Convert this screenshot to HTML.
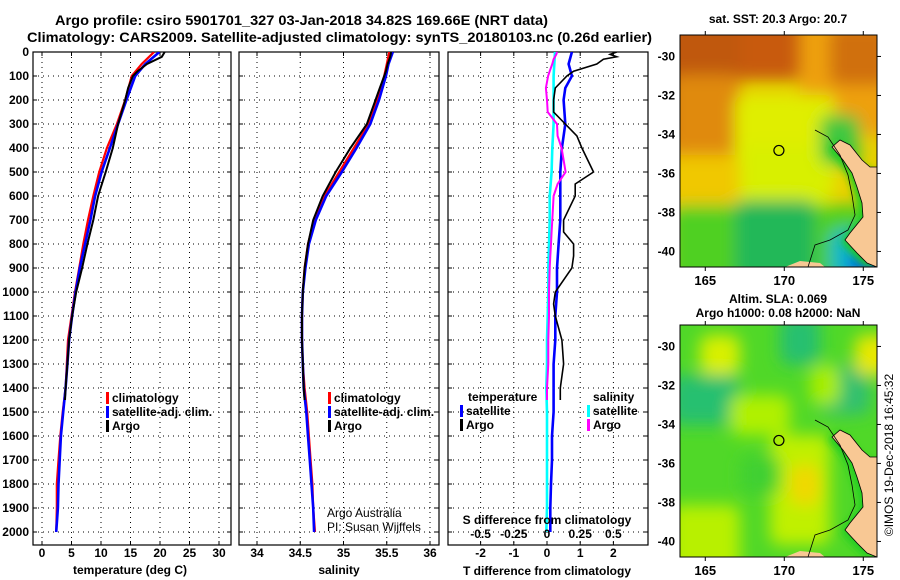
<!DOCTYPE html>
<html><head><meta charset="utf-8">
<style>
html,body{margin:0;padding:0;background:#fff;}
svg{display:block;font-family:"Liberation Sans",sans-serif;}
.b{font-weight:bold;}
</style></head>
<body>
<svg id="fig" width="900" height="580" viewBox="0 0 900 580" xmlns="http://www.w3.org/2000/svg">
<defs>
 <clipPath id="c1"><rect x="33" y="52" width="198" height="493"/></clipPath>
 <clipPath id="c2"><rect x="239" y="52" width="200" height="493"/></clipPath>
 <clipPath id="c3"><rect x="448" y="52" width="200" height="493"/></clipPath>
 <clipPath id="m1"><rect x="680" y="35" width="197" height="232"/></clipPath>
 <clipPath id="m2"><rect x="680" y="325" width="197" height="232"/></clipPath>
 <filter id="bl" filterUnits="userSpaceOnUse" x="600" y="0" width="320" height="580"><feGaussianBlur stdDeviation="8"/></filter>
 <filter id="bl2" filterUnits="userSpaceOnUse" x="600" y="0" width="320" height="580"><feGaussianBlur stdDeviation="4"/></filter>
</defs>
<text class="b" x="55" y="25" font-size="14" textLength="493" lengthAdjust="spacingAndGlyphs">Argo profile: csiro 5901701_327 03-Jan-2018 34.82S 169.66E (NRT data)</text>
<text class="b" x="27" y="42" font-size="14" textLength="625" lengthAdjust="spacingAndGlyphs">Climatology: CARS2009. Satellite-adjusted climatology: synTS_20180103.nc (0.26d earlier)</text>
<g id="plots"></g>
<g id="maps"></g>
<text transform="translate(893,455) rotate(-90)" text-anchor="middle" font-size="12">©IMOS 19-Dec-2018 16:45:32</text>
</svg>
<script>
// ---- data (depth in dbar) ----
const depthClim = [0,50,100,200,300,400,500,600,700,800,900,1000,1100,1200,1300,1400,1500,1600,1700,1800,1900,2000];
const tempClim  = [19.0,16.9,15.2,14.1,12.7,11.0,9.7,8.7,7.8,7.0,6.3,5.6,5.0,4.4,4.2,4.0,3.5,3.1,2.8,2.5,2.5,2.4];
const tempSat   = [19.9,17.5,15.8,14.3,12.9,11.5,10.1,9.0,8.2,7.3,6.4,5.7,5.1,4.6,4.3,4.0,3.6,3.2,3.0,2.8,2.7,2.4];
const salClim   = [35.53,35.5,35.47,35.39,35.29,35.12,34.95,34.78,34.66,34.59,34.55,34.53,34.52,34.52,34.53,34.55,34.58,34.60,34.62,34.64,34.65,34.67];
const salSat    = [35.57,35.52,35.49,35.41,35.31,35.15,34.98,34.80,34.68,34.60,34.56,34.53,34.52,34.52,34.53,34.54,34.57,34.59,34.61,34.63,34.65,34.66];
const depthArgo = [0,20,50,80,100,150,200,300,400,500,600,700,800,900,1000,1100,1200,1300,1400,1450];
const tempArgo  = [20.8,20.3,17.8,16.2,15.4,14.6,14.1,12.9,12.0,10.8,9.5,8.7,7.7,6.8,5.8,5.1,4.6,4.3,4.0,3.9];
const salArgo   = [35.55,35.54,35.51,35.49,35.47,35.42,35.37,35.27,35.08,34.91,34.76,34.65,34.59,34.55,34.53,34.52,34.52,34.53,34.54,34.55];
const depthDiff = [0,10,20,30,50,80,100,150,200,250,300,350,400,500,550,600,700,750,800,850,900,1000,1050,1100,1200,1300,1400,1450];
const tDiffArgo = [2.1,1.9,2.1,1.7,1.5,0.8,0.6,0.25,0.2,0.2,0.55,0.9,1.05,1.4,0.85,0.85,0.5,0.5,0.8,0.8,0.75,0.25,0.2,0.25,0.45,0.5,0.4,0.4];
const sDiffArgo = [0.075,0.07,0.06,0.05,0.04,0.02,0.008,-0.008,0.0,0.005,0.075,0.08,0.11,0.14,0.08,0.05,0.04,0.035,0.03,0.025,0.02,0.015,0.015,0.015,0.01,0.01,0.0,0.0];
const depthDiffSat = [0,50,100,150,200,300,400,500,600,700,800,900,1000,1100,1200,1300,1400,1500,1600,1700,1800,1900,2000];
const tDiffSat  = [0.75,0.65,0.75,0.55,0.5,0.55,0.45,0.4,0.4,0.4,0.35,0.3,0.3,0.25,0.25,0.2,0.2,0.2,0.15,0.15,0.12,0.1,0.1];
const sDiffSat  = [0.06,0.055,0.05,0.05,0.05,0.05,0.04,0.035,0.02,0.02,0.015,0.01,0.01,0.005,0.0,0.0,-0.005,0.0,0.0,0.0,0.0,0.0,-0.005];
const depthTicks = [0,100,200,300,400,500,600,700,800,900,1000,1100,1200,1300,1400,1500,1600,1700,1800,1900,2000];
const tempTicks = [0,5,10,15,20,25,30];
const salTicks  = ["34","34.5","35","35.5","36"];
const tdTicks   = [-2,-1,0,1,2];
const sdTickLabels = ["-0.5","-0.25","0","0.25","0.5"];
const lonTicks = [165,170,175];
const latTicks = [-30,-32,-34,-36,-38,-40];
const argoLon = [169.66];
const argoLat = [-34.82];

const NS="http://www.w3.org/2000/svg";
const P=document.getElementById('plots');
function el(tag,attrs,parent){const e=document.createElementNS(NS,tag);for(const k in attrs)e.setAttribute(k,attrs[k]);(parent||P).appendChild(e);return e;}
const yD = d => 52 + d*0.24;
const xT = t => 42 + t*5.9;
const xS = s => 257 + (s-34)*86.5;
const xTD = t => 547 + t*33.2;
const xSD = s => 547 + s*132.8;

function frame(x0,x1,name,gx){
  const g=el('g',{});
  
  
  gx.forEach(x=>el('line',{x1:x,x2:x,y1:52,y2:545,stroke:'#000','stroke-dasharray':'1,4','stroke-width':1},g));
  depthTicks.slice(1).forEach(d=>el('line',{x1:x0,x2:x1,y1:yD(d),y2:yD(d),stroke:'#000','stroke-dasharray':'1,4','stroke-width':1},g));
  depthTicks.forEach(d=>{el('line',{x1:x0,x2:x0+4,y1:yD(d),y2:yD(d),stroke:'#000'},g);el('line',{x1:x1-4,x2:x1,y1:yD(d),y2:yD(d),stroke:'#000'},g);});
  gx.forEach(x=>{el('line',{x1:x,x2:x,y1:52,y2:56,stroke:'#000'},g);el('line',{x1:x,x2:x,y1:541,y2:545,stroke:'#000'},g);});
  el('rect',{x:x0,y:52,width:x1-x0,height:493,fill:'none',stroke:'#000','stroke-width':1.2},g);
  return g;
}
function line(xs,ds,fx,color,w,clip,name){
  const pts=xs.map((v,i)=>fx(v).toFixed(1)+','+yD(ds[i]).toFixed(1)).join(' ');
  const p=el('polyline',{points:pts,fill:'none',stroke:color,'stroke-width':w,'clip-path':'url(#'+clip+')'});
  
  
}
function txt(x,y,s,opts,name){
  const t=el('text',Object.assign({x:x,y:y,'font-size':12,'font-weight':'bold'},opts||{}));
  t.textContent=s;
  
  
  return t;
}
function legend(x,y,items,prefix){
  items.forEach((it,i)=>{
    const r=el('rect',{x:x,y:y+i*14-10,width:3,height:12,fill:it[0]});
    
    
    txt(x+6,y+i*14,it[1],{},prefix+'-entry-'+i);
  });
}

// Panel 1 temperature
frame(33,231,'temperature-panel',tempTicks.map(xT));
depthTicks.forEach(d=>txt(29,yD(d)+4,String(d),{'text-anchor':'end'},'depth-tick-label'));
tempTicks.forEach(t=>txt(xT(t),557,String(t),{'text-anchor':'middle'},'temp-tick-label'));
txt(130,574,'temperature (deg C)',{'text-anchor':'middle'},'x-axis-title-temperature');
line(tempClim,depthClim,xT,'#f00',2.2,'c1','temp-climatology-line');
line(tempSat,depthClim,xT,'#00f',2.6,'c1','temp-satellite-line');
line(tempArgo,depthArgo,xT,'#000',2,'c1','temp-argo-line');
legend(106,402,[['#f00','climatology'],['#00f','satellite-adj. clim.'],['#000','Argo']],'temp-legend');

// Panel 2 salinity
frame(239,439,'salinity-panel',salTicks.map(s=>xS(+s)));
salTicks.forEach(s=>txt(xS(+s),557,s,{'text-anchor':'middle'},'sal-tick-label'));
txt(339,574,'salinity',{'text-anchor':'middle'},'x-axis-title-salinity');
line(salClim,depthClim,xS,'#f00',2.2,'c2','sal-climatology-line');
line(salSat,depthClim,xS,'#00f',2.6,'c2','sal-satellite-line');
line(salArgo,depthArgo,xS,'#000',2,'c2','sal-argo-line');
legend(328,402,[['#f00','climatology'],['#00f','satellite-adj. clim.'],['#000','Argo']],'sal-legend');
txt(327,517,'Argo Australia',{'font-weight':'normal'},'credit-argo-australia');
txt(327,531,'PI: Susan Wijffels',{'font-weight':'normal'},'credit-pi');

// Panel 3 differences
frame(448,648,'difference-panel',tdTicks.map(xTD));
tdTicks.forEach(t=>txt(xTD(t),557,String(t),{'text-anchor':'middle'},'tdiff-tick-label'));
txt(547,575,'T difference from climatology',{'text-anchor':'middle'},'x-axis-title-tdiff');
line(sDiffSat,depthDiffSat,xSD,'#0ff',2.6,'c3','sdiff-satellite-line');
line(tDiffSat,depthDiffSat,xTD,'#00f',2.6,'c3','tdiff-satellite-line');
line(sDiffArgo,depthDiff,xSD,'#f0f',2,'c3','sdiff-argo-line');
line(tDiffArgo,depthDiff,xTD,'#000',1.6,'c3','tdiff-argo-line');
txt(468,401,'temperature',{},'tdiff-legend-title');
legend(460,415,[['#00f','satellite'],['#000','Argo']],'tdiff-legend');
txt(593,401,'salinity',{},'sdiff-legend-title');
legend(587,415,[['#0ff','satellite'],['#f0f','Argo']],'sdiff-legend');
txt(547,524,'S difference from climatology',{'text-anchor':'middle'},'s-axis-title');
sdTickLabels.forEach((s,i)=>txt(xSD(+s),538,s,{'text-anchor':'middle'},'sdiff-tick-label'));

// ---- maps ----
const M=document.getElementById('maps');
function mk(tag,attrs,parent){const e=document.createElementNS(NS,tag);for(const k in attrs)e.setAttribute(k,attrs[k]);parent.appendChild(e);return e;}
const lonX = lon => 680 + (lon-163.4)*15.8;
function latY(lat,top){return top + (-28.9-lat)*19.5;}
const landRel = [[152,112],[163,125],[172,138],[177,152],[182,168],[183,182],[170,198],[165,205],[177,218],[187,228],[197,232],[197,132],[190,132],[182,125],[170,110],[160,105]];
const contourRel = [[135,95],[148,102],[160,120],[168,140],[172,160],[175,180],[168,195],[150,205],[135,210],[128,232]];
function drawMap(top,clip,name,blobs,base,title1,title2){
  const g=mk('g',{},M);
  
  
  const inner=mk('g',{'clip-path':'url(#'+clip+')'},g);
  mk('rect',{x:680,y:top,width:197,height:232,fill:base},inner);
  const bg=mk('g',{filter:'url(#bl)'},inner);
  blobs.forEach(b=>mk('rect',{x:680+b[0],y:top+b[1],width:b[2],height:b[3],fill:b[4],rx:10},bg));
  mk('polygon',{points:landRel.map(p=>(680+p[0]-4)+','+(top+p[1]+2)).join(' '),fill:'#2c2',filter:'url(#bl2)'},inner);
  const land=mk('polygon',{points:landRel.map(p=>(680+p[0])+','+(top+p[1])).join(' '),fill:'#f8c894',stroke:'#000','stroke-width':0.8},inner);
  
  
  mk('polygon',{points:'785,'+(top+232)+' 800,'+(top+226)+' 820,'+(top+228)+' 825,'+(top+232),fill:'#f8c894'},inner);
  mk('polyline',{points:contourRel.map(p=>(680+p[0])+','+(top+p[1])).join(' '),fill:'none',stroke:'#000','stroke-width':0.8},inner);
  const c=mk('circle',{cx:lonX(argoLon[0]),cy:latY(argoLat[0],top),r:5,fill:'none',stroke:'#000','stroke-width':1.2},g);
  
  
  mk('rect',{x:680,y:top,width:197,height:232,fill:'none',stroke:'#000','stroke-width':1},g);
  lonTicks.forEach(l=>{
    mk('line',{x1:lonX(l),x2:lonX(l),y1:top,y2:top-4,stroke:'#000'},g);
    mk('line',{x1:lonX(l),x2:lonX(l),y1:top+232,y2:top+236,stroke:'#000'},g);
    const t=mk('text',{x:lonX(l),y:top+250,'text-anchor':'middle','font-size':13,'font-weight':'bold'},g);t.textContent=l;
    
    
  });
  latTicks.forEach(l=>{
    const y=latY(l,top);
    mk('line',{x1:877,x2:881,y1:y,y2:y,stroke:'#000'},g);
    const t=mk('text',{x:675,y:y+4,'text-anchor':'end','font-size':12,'font-weight':'bold'},g);t.textContent=l;
    
    
  });
  if(title2){
    const a=mk('text',{x:778,y:top-22,'text-anchor':'middle','font-size':12,'font-weight':'bold'},g);a.textContent=title1;
    
    
    const b=mk('text',{x:778,y:top-8,'text-anchor':'middle','font-size':12,'font-weight':'bold'},g);b.textContent=title2;
    
    
  } else {
    const a=mk('text',{x:778,y:top-12,'text-anchor':'middle','font-size':12,'font-weight':'bold'},g);a.textContent=title1;
    
    
  }
}
drawMap(35,'m1','sst-map',[
  [-20,-20,240,65,'#c85a08'],[-20,-20,80,130,'#c0580c'],[-10,40,70,100,'#e08a10'],[120,-20,100,120,'#eea010'],
  [150,-10,60,60,'#d07010'],[55,60,100,100,'#e0ee00'],[-10,120,70,60,'#f0c800'],[60,110,90,60,'#d8f000'],
  [-10,170,220,80,'#50d020'],[55,165,80,80,'#20b858'],[140,80,40,50,'#40c840'],[150,195,60,50,'#10b8c8'],[170,215,40,30,'#0060e0']
],'#e8d000','sat. SST: 20.3 Argo: 20.7');
drawMap(325,'m2','sla-map',[
  [20,10,40,40,'#d8f000'],[-10,50,70,50,'#28c070'],[100,-10,40,50,'#28c070'],[140,40,50,50,'#30c070'],
  [175,10,40,40,'#e8e800'],[50,70,60,40,'#b0f000'],[90,110,60,110,'#c0f000'],[110,140,30,40,'#f0d800'],
  [-10,180,70,70,'#b8f000'],[60,130,40,40,'#40d030'],[130,40,30,40,'#a8ee00']
],'#50d828','Altim. SLA: 0.069','Argo h1000: 0.08 h2000: NaN');
</script>
</body></html>
